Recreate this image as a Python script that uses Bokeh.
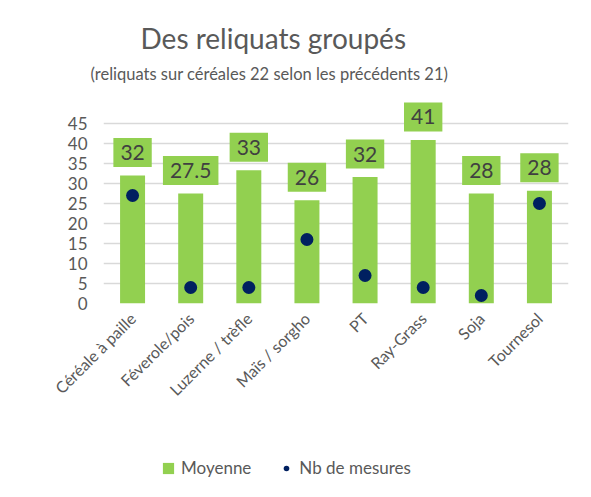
from bokeh.plotting import figure
from bokeh.layouts import column
from bokeh.models import ColumnDataSource, FixedTicker, Legend, LegendItem, Title, Range1d
from bokeh.core.properties import value
from bokeh.embed import file_html
from bokeh.resources import INLINE
import math

categories = ["Céréale à paille", "Féverole/pois", "Luzerne / trèfle", "Maïs / sorgho",
              "PT", "Ray-Grass", "Soja", "Tournesol"]
moyenne = [32, 27.5, 33.3, 25.8, 31.6, 40.9, 27.5, 28.2]
moyenne_labels = ["32", "27.5", "33", "26", "32", "41", "28", "28"]
nb_mesures = [27, 4, 4, 16, 7, 4, 2, 25]
y_ticks = [0, 5, 10, 15, 20, 25, 30, 35, 40, 45]

GREEN = "#92D050"
NAVY = "#002060"
GRAY = "#595959"
FONT = "Lato"

src = ColumnDataSource(dict(cat=categories, moy=moyenne, lab=moyenne_labels, nb=nb_mesures))

p = figure(width=591, height=440, x_range=categories, y_range=Range1d(0, 53),
           output_backend="svg", toolbar_location=None)
p.min_border_left = 103
p.min_border_right = 23
p.min_border_bottom = 137
p.min_border_top = 91
p.outline_line_color = None
p.background_fill_color = "white"
p.border_fill_color = "white"

p.add_layout(Title(text="(reliquats sur céréales 22 selon les précédents 21)", align="left",
                   offset=-13, standoff=15, text_font=FONT, text_font_size="16.5px",
                   text_font_style="normal", text_color=GRAY), "above")
p.add_layout(Title(text="Des reliquats groupés", align="left", offset=37, standoff=0,
                   text_font=FONT, text_font_size="28px", text_font_style="normal",
                   text_color=GRAY), "above")

p.vbar(x="cat", top="moy", width=0.43, source=src, fill_color=GREEN, line_color=None)
p.scatter(x="cat", y="nb", size=13, source=src, fill_color=NAVY, line_color=None)

p.text(x="cat", y="moy", text="lab", source=src, y_offset=-23, text_align="center",
       text_baseline="middle", text_font=value(FONT), text_font_size="21px",
       text_color="#404040", background_fill_color=GREEN, padding=7)

p.yaxis.ticker = FixedTicker(ticks=y_ticks)
p.yaxis.axis_line_color = None
p.yaxis.major_tick_line_color = None
p.yaxis.minor_tick_line_color = None
p.yaxis.major_label_text_font = FONT
p.yaxis.major_label_text_font_size = "17px"
p.yaxis.major_label_text_color = GRAY
p.yaxis.major_label_standoff = 10

p.xaxis.axis_line_color = None
p.xaxis.major_tick_line_color = None
p.xaxis.major_label_orientation = math.pi / 4
p.xaxis.major_label_text_font = FONT
p.xaxis.major_label_text_font_size = "16px"
p.xaxis.major_label_text_color = GRAY
p.xaxis.major_label_standoff = 6

p.xgrid.grid_line_color = None
p.ygrid.grid_line_color = "#d9d9d9"
p.ygrid.grid_line_width = 1.5
p.ygrid.ticker = FixedTicker(ticks=y_ticks)

# legend strip below the chart (proxy renderers kept out of the strip's visible range)
lg = figure(width=591, height=57, x_range=categories, y_range=Range1d(1000, 1001),
            x_axis_type=None, y_axis_type=None, output_backend="svg", toolbar_location=None)
lg.min_border_left = 0
lg.min_border_right = 0
lg.min_border_top = 0
lg.min_border_bottom = 0
lg.outline_line_color = None
lg.grid.grid_line_color = None
lg_bar = lg.vbar(x="cat", top="moy", width=0, source=src, fill_color=GREEN, line_color=None)
lg_dot = lg.scatter(x="cat", y="nb", size=13, source=src, fill_color=NAVY, line_color=None)
legend = Legend(items=[LegendItem(label="Moyenne", renderers=[lg_bar]),
                       LegendItem(label="Nb de mesures", renderers=[lg_dot])],
                orientation="horizontal", location=(58, 19), label_text_font=FONT,
                label_text_font_size="17px", label_text_color=GRAY, border_line_color=None,
                background_fill_alpha=0, spacing=28, label_standoff=6, padding=5,
                glyph_width=14, glyph_height=14)
lg.add_layout(legend)

layout = column(p, lg, spacing=0)
open("out.html", "w").write(file_html(layout, INLINE))
